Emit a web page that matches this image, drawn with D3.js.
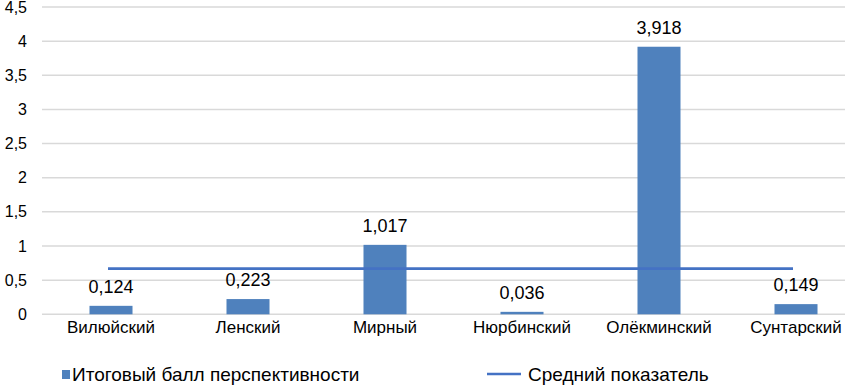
<!DOCTYPE html>
<html>
<head>
<meta charset="utf-8">
<script src="https://cdn.jsdelivr.net/npm/d3@7"></script>
<style>
  body { margin: 0; background: #fff; }
  text { font-family: "Liberation Sans", Arial, sans-serif; fill: #000; }
</style>
</head>
<body>
<svg id="chart"></svg>
<script>
// data
const districts = ["Вилюйский", "Ленский", "Мирный", "Нюрбинский", "Олёкминский", "Сунтарский"];
const scores = [0.124, 0.223, 1.017, 0.036, 3.918, 0.149];
const averageValue = 0.67;
const yTicks = [0, 0.5, 1, 1.5, 2, 2.5, 3, 3.5, 4, 4.5];
const seriesNames = ["Итоговый балл перспективности", "Средний показатель"];

const width = 845, height = 387;
const barColor = "#4f81bd", lineColor = "#4472c4";

const svg = d3.select("#chart")
    .attr("width", width)
    .attr("height", height);

const fmt = v => String(v).replace(".", ",");

const x = d3.scaleBand()
    .domain(districts)
    .range([42.5, 864.5])
    .paddingInner(0.686)
    .paddingOuter(0.343);

const y = d3.scaleLinear()
    .domain([0, 4.5])
    .range([314.3, 7]);

// grid lines
svg.append("g")
    .selectAll("line")
    .data(yTicks)
    .join("line")
    .attr("x1", 42)
    .attr("x2", width)
    .attr("y1", d => y(d))
    .attr("y2", d => y(d))
    .attr("stroke", "#d9d9d9")
    .attr("stroke-width", 1.5);

// y axis labels
const yaxis = d3.axisLeft(y)
    .tickValues(yTicks)
    .tickFormat(fmt)
    .tickSize(0)
    .tickPadding(0);
const yg = svg.append("g")
    .attr("transform", "translate(27,0)")
    .call(yaxis);
yg.select(".domain").remove();
yg.selectAll("text")
    .attr("font-size", 16)
    .attr("font-family", "Liberation Sans, Arial, sans-serif")
    .attr("fill", "#000");

// bars
svg.append("g")
    .selectAll("rect")
    .data(scores)
    .join("rect")
    .attr("x", (d, i) => x(districts[i]))
    .attr("y", d => y(d))
    .attr("width", x.bandwidth())
    .attr("height", d => y(0) - y(d))
    .attr("fill", barColor);

// average line
svg.append("line")
    .attr("x1", x(districts[0]) + x.bandwidth() / 2 - 3)
    .attr("x2", x(districts[districts.length - 1]) + x.bandwidth() / 2 - 3)
    .attr("y1", y(averageValue))
    .attr("y2", y(averageValue))
    .attr("stroke", lineColor)
    .attr("stroke-width", 2.7);

// value labels
svg.append("g")
    .selectAll("text")
    .data(scores)
    .join("text")
    .attr("x", (d, i) => x(districts[i]) + x.bandwidth() / 2)
    .attr("y", d => y(d) - 13)
    .attr("text-anchor", "middle")
    .attr("font-size", 18)
    .text(d => fmt(d));

// category labels
const xaxis = d3.axisBottom(x).tickSize(0).tickPadding(0);
const xg = svg.append("g")
    .attr("transform", "translate(0,318)")
    .call(xaxis);
xg.select(".domain").remove();
xg.selectAll("text")
    .attr("dy", "0.9em")
    .attr("font-size", 17)
    .attr("font-family", "Liberation Sans, Arial, sans-serif")
    .attr("fill", "#000");

// legend
const legend = svg.append("g");
legend.append("rect")
    .attr("x", 62).attr("y", 370)
    .attr("width", 8).attr("height", 9)
    .attr("fill", barColor);
legend.append("text")
    .attr("x", 72).attr("y", 381)
    .attr("font-size", 19)
    .text(seriesNames[0]);
legend.append("line")
    .attr("x1", 487).attr("x2", 521)
    .attr("y1", 374).attr("y2", 374)
    .attr("stroke", lineColor)
    .attr("stroke-width", 2.7);
legend.append("text")
    .attr("x", 528).attr("y", 381)
    .attr("font-size", 19)
    .text(seriesNames[1]);
</script>
</body>
</html>
